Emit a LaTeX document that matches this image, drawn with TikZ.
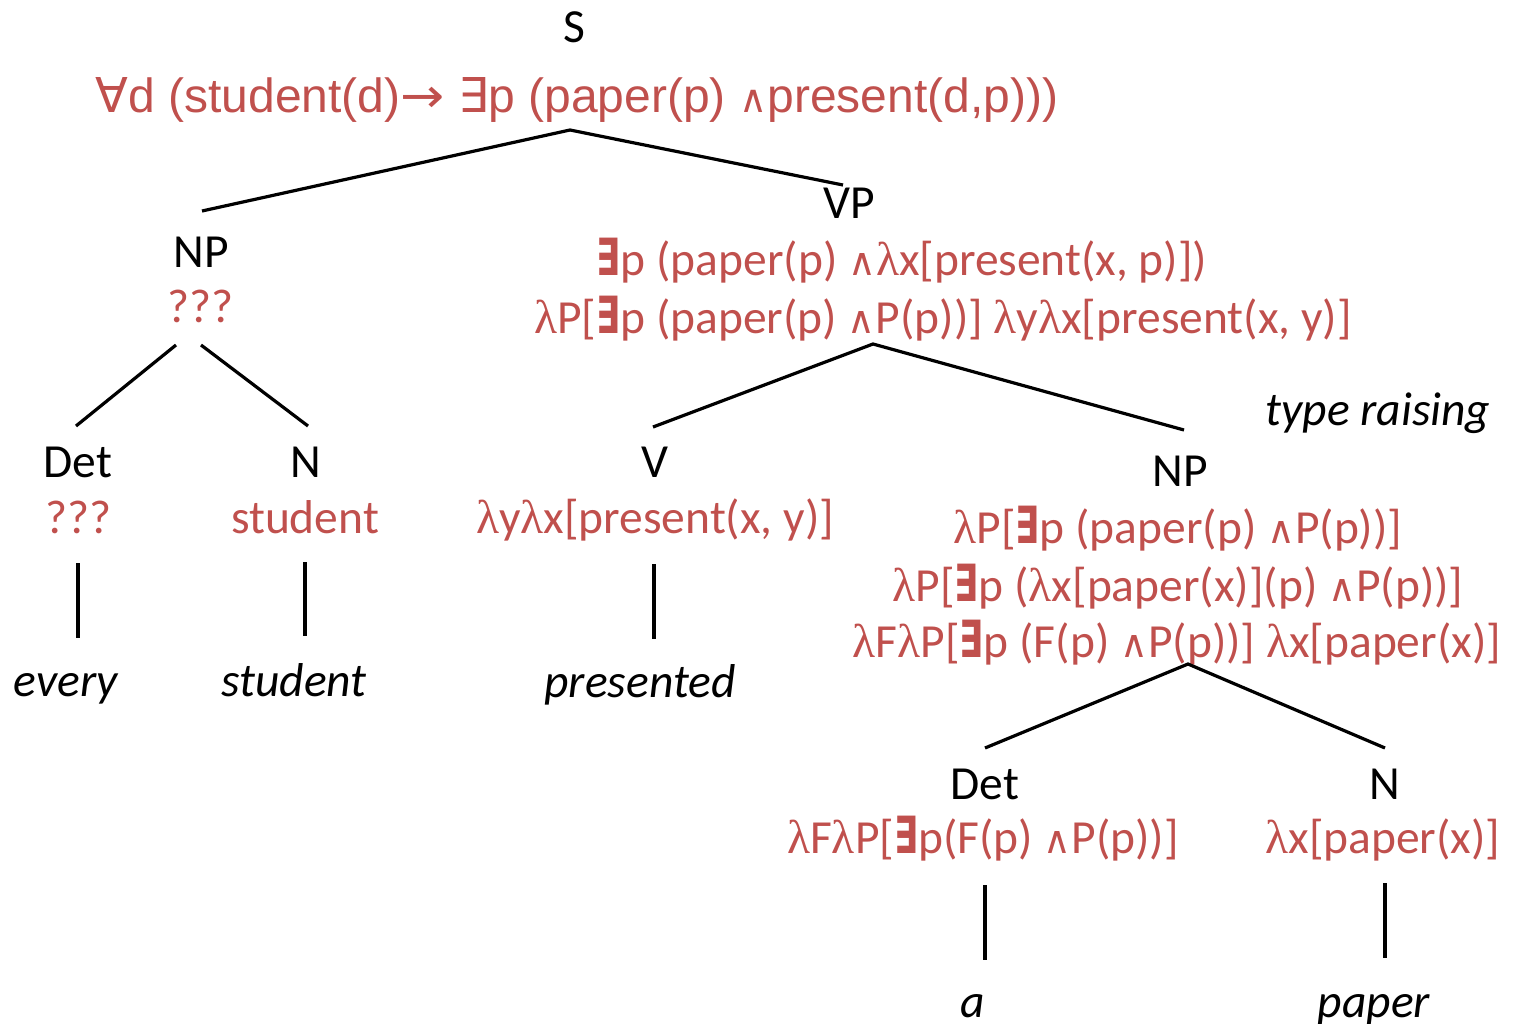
\documentclass[tikz,border=0pt]{standalone}
\usepackage{fontspec}
\usepackage{graphicx}
\setmainfont{Carlito}
\newfontfamily\arialfont{Liberation Sans}
\newfontfamily\symfont{DejaVu Sans}
\newfontfamily\greekfont{Liberation Serif}
\definecolor{semred}{HTML}{C0504D}

% logical symbols used in the semantic formulas
\newcommand\lmb{{\greekfont λ}}
\newcommand\exq{\scalebox{0.74}[1.08]{\symfont\bfseries ∃}}
\newcommand\exqn{{\symfont ∃}}
\newcommand\fall{{\symfont ∀}}
\newcommand\cnj{\scalebox{0.8}{\symfont ∧}}
\newcommand\impl{\scalebox{1.1}[1]{\symfont →}}

\begin{document}
\begin{tikzpicture}[x=1pt, y=-1pt,
  every node/.style={inner sep=0pt, anchor=base},
  cat/.style={font=\fontsize{47.5}{57}\selectfont, text=black},
  sem/.style={font=\fontsize{47.5}{57}\selectfont, text=semred},
  topsem/.style={font=\arialfont\fontsize{48}{57}\selectfont, text=semred},
  word/.style={font=\fontsize{47.5}{57}\selectfont\itshape, text=black},
  branch/.style={draw=black, line width=3.2pt}]

\useasboundingbox (0,0) rectangle (1525,1023);

% ---- root ----
\node[cat] (S) at (574,42) {S};
\node[topsem] (Ssem) at (577,112) {\fall d (student(d)\impl\ \exqn p (paper(p) \cnj present(d,p)))};

% ---- subject NP ----
\node[cat] (NP1) at (201,267) {NP};
\node[sem] (NP1sem) at (201,322) {???};
\node[cat] (Det1) at (78,477) {Det};
\node[sem] (Det1sem) at (79,533) {???};
\node[cat] (N1) at (306,477) {N};
\node[sem] (N1sem) at (305,533) {student};
\node[word] (every) at (66,696) {every};
\node[word] (student) at (294,696) {student};

% ---- VP ----
\node[cat] (VP) at (849,218) {VP};
\node[sem] (VPsemA) at (902,275) {\exq p (paper(p) \cnj\lmb x[present(x, p)])};
\node[sem] (VPsemB) at (943,333) {\lmb P[\exq p (paper(p) \cnj P(p))] \lmb y\lmb x[present(x, y)]};

\node[cat] (V) at (655,477) {V};
\node[sem] (Vsem) at (655,533) {\lmb y\lmb x[present(x, y)]};
\node[word] (presented) at (640,697) {presented};

% ---- object NP ----
\node[word] (raise) at (1378,425) {type raising};
\node[cat] (NP2) at (1180,486) {NP};
\node[sem] (NP2semA) at (1178,543) {\lmb P[\exq p (paper(p) \cnj P(p))]};
\node[sem] (NP2semB) at (1178,601) {\lmb P[\exq p (\lmb x[paper(x)](p) \cnj P(p))]};
\node[sem] (NP2semC) at (1177,657) {\lmb F\lmb P[\exq p (F(p) \cnj P(p))] \lmb x[paper(x)]};

\node[cat] (Det2) at (985,799) {Det};
\node[sem] (Det2sem) at (983,853) {\lmb F\lmb P[\exq p(F(p) \cnj P(p))]};
\node[cat] (N2) at (1385,799) {N};
\node[sem] (N2sem) at (1383,853) {\lmb x[paper(x)]};
\node[word] (a) at (973,1017) {a};
\node[word] (paper) at (1374,1017) {paper};

% ---- branch end points ----
\coordinate (S-b) at (570,130);
\coordinate (NP1-t) at (202,211);
\coordinate (VP-t) at (843,185);
\coordinate (NP1-bl) at (176,345);
\coordinate (NP1-br) at (201,345);
\coordinate (Det1-t) at (76,426);
\coordinate (N1-t) at (308,426);
\coordinate (Det1-b) at (78,563);
\coordinate (every-t) at (78,638);
\coordinate (N1-b) at (305,562);
\coordinate (student-t) at (305,636);
\coordinate (VP-b) at (873,344);
\coordinate (V-t) at (653,427);
\coordinate (NP2-t) at (1184,430);
\coordinate (V-b) at (654,564);
\coordinate (presented-t) at (654,639);
\coordinate (NP2-b) at (1188,664);
\coordinate (Det2-t) at (985,748);
\coordinate (N2-t) at (1385,748);
\coordinate (Det2-b) at (985,885);
\coordinate (a-t) at (985,960);
\coordinate (N2-b) at (1385,883);
\coordinate (paper-t) at (1385,958);

% ---- branches ----
\draw[branch] (NP1-t) -- (S-b) -- (VP-t);
\draw[branch] (Det1-t) -- (NP1-bl);
\draw[branch] (NP1-br) -- (N1-t);
\draw[branch] (Det1-b) -- (every-t);
\draw[branch] (N1-b) -- (student-t);
\draw[branch] (V-t) -- (VP-b) -- (NP2-t);
\draw[branch] (V-b) -- (presented-t);
\draw[branch] (Det2-t) -- (NP2-b) -- (N2-t);
\draw[branch] (Det2-b) -- (a-t);
\draw[branch] (N2-b) -- (paper-t);
\end{tikzpicture}
\end{document}
